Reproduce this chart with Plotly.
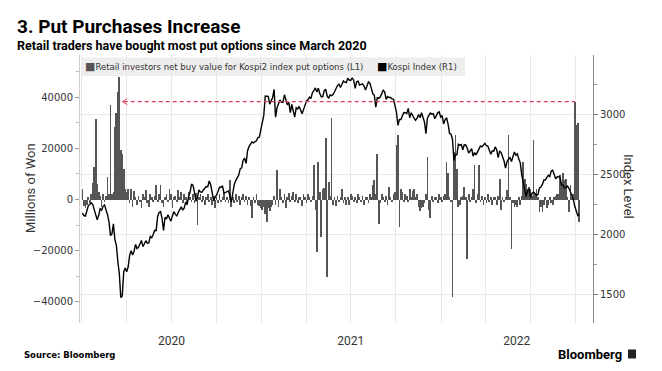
import pandas as pd
import plotly.graph_objects as go

# ---- data (3-day sampling grid starting 2020-01-02) ----
start_date = "2020-01-02"

kospi_index = [
    2175, 2155, 2151, 2206, 2238, 2250, 2262, 2246, 2200, 2148,
    2119, 2157, 2211, 2201, 2232, 2243, 2208, 2162, 2103, 1987,
    2002, 2085, 1954, 1908, 1771, 1672, 1470, 1482, 1686, 1717,
    1685, 1725, 1823, 1861, 1825, 1857, 1914, 1879, 1889, 1922,
    1947, 1895, 1928, 1945, 1924, 1927, 1980, 1970, 1999, 2031,
    2029, 2147, 2181, 2188, 2132, 2030, 2141, 2126, 2161, 2134,
    2108, 2152, 2187, 2167, 2150, 2183, 2201, 2228, 2200, 2217,
    2267, 2249, 2311, 2351, 2418, 2407, 2348, 2274, 2304, 2369,
    2353, 2349, 2368, 2384, 2397, 2396, 2443, 2412, 2333, 2278,
    2308, 2327, 2358, 2391, 2391, 2403, 2341, 2346, 2355, 2360,
    2326, 2267, 2343, 2416, 2447, 2475, 2493, 2545, 2553, 2617,
    2633, 2591, 2696, 2731, 2755, 2770, 2762, 2772, 2778, 2806,
    2809, 2873, 2944, 2991, 3152, 3148, 3150, 3085, 3114, 3140,
    3208, 2976, 3056, 3087, 3120, 3100, 3100, 3163, 3107, 3079,
    3099, 3013, 3082, 3026, 2976, 3054, 3045, 3066, 3039, 3005,
    3041, 3071, 3112, 3120, 3143, 3131, 3182, 3198, 3220, 3186,
    3217, 3174, 3147, 3147, 3197, 3209, 3153, 3134, 3162, 3156,
    3165, 3188, 3221, 3240, 3252, 3224, 3249, 3278, 3268, 3264,
    3302, 3286, 3282, 3305, 3285, 3217, 3271, 3276, 3244, 3250,
    3254, 3236, 3202, 3237, 3270, 3260, 3208, 3171, 3158, 3060,
    3138, 3133, 3144, 3175, 3201, 3188, 3125, 3149, 3140, 3140,
    3128, 3125, 3060, 3019, 2908, 2956, 2956, 2988, 3015, 3013,
    3006, 3049, 2970, 3013, 2983, 2969, 2950, 2968, 2998, 2971,
    3013, 2980, 2936, 2839, 2968, 2991, 3010, 3001, 3006, 2963,
    2984, 3012, 3020, 2977, 2989, 2920, 2954, 2972, 2921, 2842,
    2834, 2792, 2614, 2663, 2663, 2750, 2741, 2747, 2704, 2745,
    2744, 2719, 2676, 2699, 2713, 2651, 2680, 2661, 2686, 2707,
    2736, 2729, 2741, 2757, 2739, 2735, 2700, 2666, 2696, 2693,
    2728, 2704, 2639, 2695, 2680, 2644, 2610, 2550, 2604, 2625,
    2639, 2605, 2638, 2685, 2658, 2670, 2626, 2595, 2493, 2440,
    2391, 2314, 2366, 2377, 2305, 2341, 2350, 2340, 2322, 2330,
    2386, 2393, 2415, 2452, 2452, 2473, 2490, 2480, 2527, 2533,
    2492, 2462, 2477, 2481, 2472, 2409, 2410, 2384, 2390, 2401,
    2382, 2350, 2320, 2290, 2230, 2200, 2155, 2165,
]

# retail net buy value of Kospi2 put options, thousands of millions of won
put_net_buy_k = [
    4, -2.5, -3.5, -2, 1, -1.5, 2, 6.3, 12.8, 31.7,
    6, 3, 1.5, -3, 2, -1, 1.5, 8.9, 2, 36.8,
    2, 3, 28.4, 33.8, 42, 47.8, 19.5, 18, 12, 4,
    3, 4.3, -1.5, 4, -2.9, 3.5, 1, -2, 1.5, -1,
    -3.5, 2, 1, 3.7, -1.5, -3, 2, 1, -1, 1.5,
    5.6, -1, 2, 5.6, -1.5, -3, 1, 2, -1, 4.3,
    2, -3.5, 1, 1.5, -1, 3.7, 1, 3, -1.5, 2,
    1, -2, 3, 1, -1, 2, -1.5, 2.5, -10, 1,
    2, -1, 1.5, -2, 1, 2, -1, 1, -2, 1.5,
    -3.5, 1, -1.5, 2, -1, 1, 2.5, -1, 1, -1.5,
    7.6, -2.9, 1, -1.5, 2, -1, 1.5, -2, 1, 2,
    -1, 1.5, -2, 1, -2.5, -7.4, 1, -1.5, 2, -2,
    -2.5, -3.5, -4, -3, -5.5, -8.7, -3.5, -4.5, -3, -2,
    1.5, -2, 11.5, -2.9, 4.3, 1, -1.5, 2, -3.5, 1,
    2.5, -1, 1.5, 3, -1, 2, -1.5, 1, 1, -2.5,
    2, 1, -1.5, 2, 1, -1, 1.5, 13.5, -4.2, -20.5,
    14.8, 3, -14.6, 4.3, 4.5, 23.9, -30.3, 7, 1.5, 31.8,
    -2, 1, -2.5, 1.5, -1, 1, 4.3, -1.5, 1, -2,
    1, -2, 2, 1.5, -1, 1, -1.5, 2, 1, -1,
    1.5, -2, 1, 1, -1.5, 2, 1, 5.6, 7.6, 2,
    18, -9.4, -1.5, 2, 1, -1, 1.5, -2, 5, 1,
    -1, 2, 3, 21.3, 25.2, -10.7, 4, 3, -1, 2,
    1.5, -1, 4.3, 1, 3.5, 4.3, 1, 2, -3, -4.5,
    -3.5, -3, -1.5, 2, 16.7, -4, -7.4, 1.5, -1, 1,
    1, -1.5, 2, 1, -1, 1.5, 2, 14.8, 10.2, 1,
    -1, -38.2, 18.7, 25.2, 12, -3, -2, 1, 1.5, 5,
    1, -23.1, 2, -1, 1, 4.3, 13.5, -1.5, 2, 13.5,
    -1, 1.5, -2, 1, -1.5, 2, -1, 1, -2, 1,
    1, -2, 1.5, 8.2, -4, 1, -1, 1, 3.7, 25.2,
    1, -19.2, -1.5, -3, -2, -3, 1, -2, 1.5, 14.8,
    8.2, 6, 4.3, 5, 4, 1.5, 23.3, 2, 4.3, 1,
    -4.8, -3, -4.8, -2, 1, -3.5, -2, 1, -1.5, -2,
    1, 1.5, 2, 2, 9.5, 7, 10.2, 7.6, 8, 1,
    -4.8, 5.6, 1, 2, 38.3, 29.1, 29.8, -8.7,
]

year_ticks = ["2020-07-01", "2021-07-01", "2022-06-04"]
year_labels = ["2020", "2021", "2022"]

series_names = ["Retail investors net buy value for Kospi2 index put options (L1)",
                "Kospi Index (R1)"]

# ---- build ----
dates = pd.date_range(start=start_date, periods=len(kospi_index), freq="3D")
put_values = [v * 1000 for v in put_net_buy_k]

BAR_COLOR = "#555555"
ARROW_COLOR = "#e23d58"
FONT = "DejaVu Sans"
TITLE_FONT = "Roboto, sans-serif"

fig = go.Figure()
fig.add_trace(go.Bar(x=dates, y=put_values, name=series_names[0],
                     marker=dict(color=BAR_COLOR, line=dict(width=0)),
                     width=1.5 * 86400000, yaxis="y", showlegend=False))
fig.add_trace(go.Scatter(x=dates, y=kospi_index, name=series_names[1], mode="lines",
                         line=dict(color="#000000", width=1.4), yaxis="y2",
                         showlegend=False))

W, H = 662, 371
L, R, T, B = 80, 69, 55, 48
pw, ph = W - L - R, H - T - B


def px(xp):
    return (xp - L) / pw


def py(yp):
    return (H - B - yp) / ph


fig.update_layout(
    width=W, height=H,
    margin=dict(l=L, r=R, t=T, b=B, autoexpand=False),
    paper_bgcolor="white", plot_bgcolor="white",
    bargap=0,
    font=dict(family=FONT, color="#333333", size=10),
    xaxis=dict(
        type="date", range=["2019-12-28", "2022-11-06"],
        tickmode="array", tickvals=year_ticks, ticktext=year_labels,
        ticks="", showgrid=False, zeroline=False, showline=False,
        tickfont=dict(family="Roboto", size=12, color="#333333"),
        ticklabelstandoff=9,
        minor=dict(tick0="2020-01-01", dtick="M3", showgrid=True,
                   gridcolor="#e9e9e9", gridwidth=1, ticks=""),
    ),
    yaxis=dict(
        range=[-48340, 56560], tick0=0, dtick=20000, tickformat="d",
        ticks="outside", ticklen=4, tickcolor="#999999",
        showgrid=False, zeroline=False,
        showline=True, linecolor="#cccccc", linewidth=1,
        tickfont=dict(size=10, color="#333333"),
        minor=dict(dtick=10000, ticks="outside", ticklen=3, tickcolor="#bbbbbb"),
    ),
    yaxis2=dict(
        overlaying="y", side="right",
        range=[1258, 3495], tick0=0, dtick=500, tickformat="d",
        ticks="outside", ticklen=4, tickcolor="#777777",
        showgrid=True, gridcolor="#e9e9e9", gridwidth=1, zeroline=False,
        showline=True, linecolor="#888888", linewidth=1,
        tickfont=dict(size=10, color="#333333"),
        minor=dict(dtick=250, ticks="outside", ticklen=3, tickcolor="#999999"),
    ),
)

# highlight arrow (dashed line from latest spike back to March 2020 level)
spike_idx = len(put_values) - 4
tip_idx = 27
level = put_values[spike_idx]
fig.add_shape(type="line", xref="x", yref="y",
              x0=dates[tip_idx + 1], x1=dates[spike_idx], y0=level, y1=level,
              line=dict(color=ARROW_COLOR, width=1.2, dash="4px,3px"))
for dy in (3, -3):
    fig.add_shape(type="line", xref="x", yref="y",
                  xsizemode="pixel", xanchor=dates[tip_idx], x0=0, x1=5,
                  ysizemode="pixel", yanchor=level, y0=0, y1=dy,
                  line=dict(color=ARROW_COLOR, width=1))

# legend box
fig.add_shape(type="rect", xref="paper", yref="paper",
              x0=0.002, x1=px(465), y0=py(76), y1=py(57.5),
              fillcolor="#eeeeee", line=dict(width=0), layer="below")

ann = []
ann.append(dict(xref="paper", yref="paper", x=px(83), y=py(66.5),
                xanchor="left", yanchor="middle", showarrow=False,
                text=f"<span style='color:{BAR_COLOR};font-size:11px'>■</span>{series_names[0]}",
                font=dict(family=FONT, size=8.5, color="#333333")))
ann.append(dict(xref="paper", yref="paper", x=px(375), y=py(66.5),
                xanchor="left", yanchor="middle", showarrow=False,
                text=f"<span style='color:#000000;font-size:11px'>■</span>{series_names[1]}",
                font=dict(family=FONT, size=8.5, color="#333333")))
# titles
ann.append(dict(xref="paper", yref="paper", x=px(15), y=py(27),
                xanchor="left", yanchor="middle", showarrow=False,
                text="<b>3. Put Purchases Increase</b>",
                font=dict(family=TITLE_FONT, size=19, color="#000000")))
ann.append(dict(xref="paper", yref="paper", x=px(15), y=py(45.5),
                xanchor="left", yanchor="middle", showarrow=False,
                text="<b>Retail traders have bought most put options since March 2020</b>",
                font=dict(family=TITLE_FONT, size=12.5, color="#000000")))
# axis titles
ann.append(dict(xref="paper", yref="paper", x=px(30), y=py(188),
                xanchor="center", yanchor="middle", showarrow=False, textangle=-90,
                text="Millions of Won", font=dict(family="Roboto", size=13, color="#333333")))
ann.append(dict(xref="paper", yref="paper", x=px(629), y=py(186),
                xanchor="center", yanchor="middle", showarrow=False, textangle=90,
                text="Index Level", font=dict(family="Roboto", size=13, color="#333333")))
# footer
ann.append(dict(xref="paper", yref="paper", x=px(22), y=py(355),
                xanchor="left", yanchor="middle", showarrow=False,
                text="<b>Source: Bloomberg</b>",
                font=dict(family=FONT, size=8.5, color="#000000")))
ann.append(dict(xref="paper", yref="paper", x=px(624), y=py(354),
                xanchor="right", yanchor="middle", showarrow=False,
                text="<b>Bloomberg</b>",
                font=dict(family="Roboto", size=13, color="#000000")))
fig.add_shape(type="rect", xref="paper", yref="paper",
              x0=px(628), x1=px(636), y0=py(358.5), y1=py(349.5),
              fillcolor="#222222", line=dict(width=0))
fig.update_layout(annotations=ann)

fig.write_html("out.html", config={"displayModeBar": False},
               post_script="document.body.style.margin='0px';document.body.style.overflow='hidden';")
